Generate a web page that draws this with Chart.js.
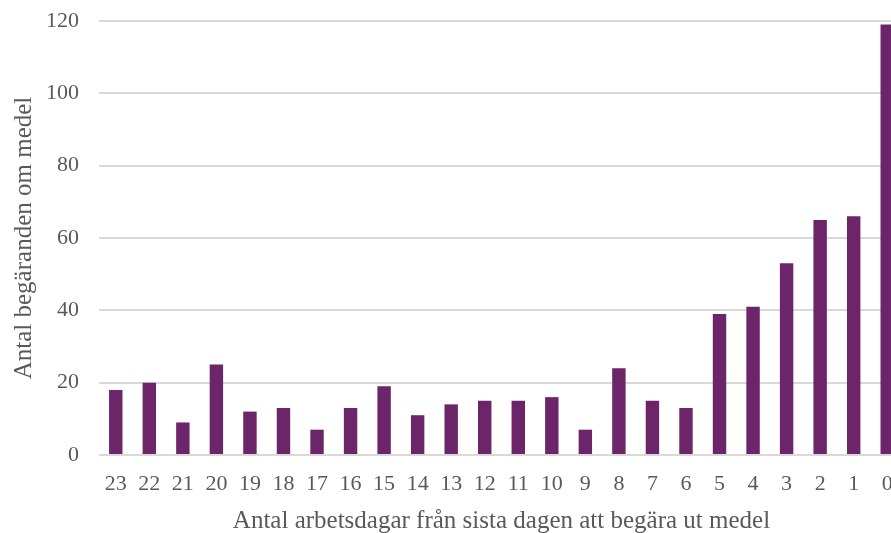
<!DOCTYPE html>
<html>
<head>
<meta charset="utf-8">
<script src="https://cdn.jsdelivr.net/npm/chart.js@4"></script>
<style>
html,body{margin:0;padding:0;background:#fff;overflow:hidden;}
#wrap{position:relative;width:904px;height:533px;}
</style>
</head>
<body>
<div id="wrap"><canvas id="c" width="904" height="533"></canvas></div>
<script>
const categories = ["23","22","21","20","19","18","17","16","15","14","13","12","11","10","9","8","7","6","5","4","3","2","1","0"];
const values = [18,20,9,25,12,13,7,13,19,11,14,15,15,16,7,24,15,13,39,41,53,65,66,119];
const yTicks = [0,20,40,60,80,100,120];
const xTitle = "Antal arbetsdagar från sista dagen att begära ut medel";
const yTitle = "Antal begäranden om medel";

const fontFam = "'Liberation Serif', 'DejaVu Serif', serif";
const textColor = "#595959";

new Chart(document.getElementById('c'), {
  type: 'bar',
  data: {
    labels: categories,
    datasets: [{
      data: values,
      backgroundColor: '#6B2568',
      borderWidth: 0,
      barPercentage: 0.4,
      categoryPercentage: 1.0
    }]
  },
  options: {
    responsive: false,
    animation: false,
    layout: { padding: { top: 21, right: 0, left: 0, bottom: 0 } },
    plugins: { legend: { display: false }, tooltip: { enabled: false } },
    scales: {
      x: {
        grid: { display: false },
        border: { display: false },
        ticks: { color: textColor, font: { family: fontFam, size: 22 }, padding: 8, maxRotation: 0, autoSkip: false },
        title: { display: true, text: xTitle, color: textColor, font: { family: fontFam, size: 25 }, padding: { top: 4, bottom: -3 } },
        afterFit: s => { s.height = 78; s.paddingLeft = 0; s.paddingRight = 0; }
      },
      y: {
        min: 0, max: 120,
        afterBuildTicks: s => { s.ticks = yTicks.map(v => ({ value: v })); },
        grid: { color: '#D9D9D9', lineWidth: 2, drawTicks: false },
        border: { display: false },
        ticks: { color: textColor, font: { family: fontFam, size: 22 }, padding: 20 },
        title: { display: true, text: yTitle, color: textColor, font: { family: fontFam, size: 25 }, padding: { top: 9, bottom: 4 } },
        afterFit: s => { s.width = 99; s.paddingTop = 0; s.paddingBottom = 0; }
      }
    }
  }
});
</script>
</body>
</html>
